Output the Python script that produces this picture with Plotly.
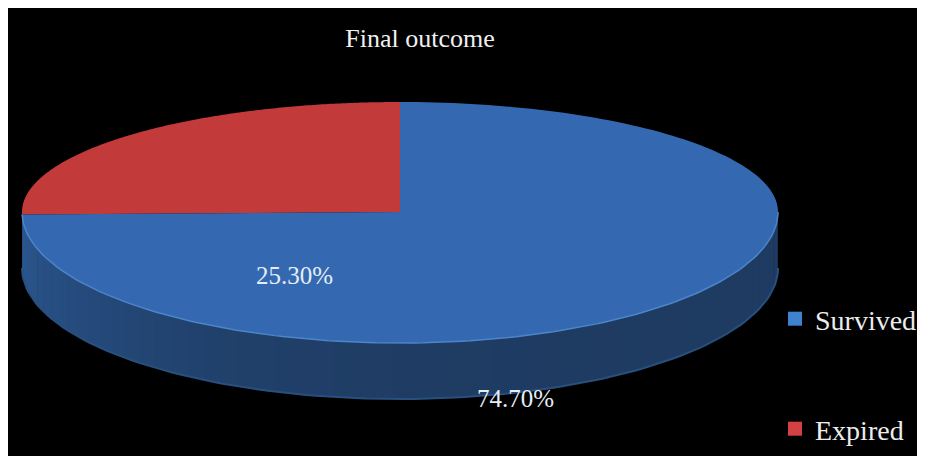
import numpy as np
import plotly.graph_objects as go

# ---- data ----
categories = ["Expired", "Survived"]
values = [25.3, 74.7]
title_text = "Final outcome"

# ---- styling / geometry (page-pixel coordinates; page body has an 8px margin) ----
OFF = 8
FIG_W, FIG_H = 925, 456 - OFF
top_colors = {"Expired": "#c23a3a", "Survived": "#3469b1"}
legend_colors = {"Expired": "#d24242", "Survived": "#3f82cf"}
CX, CY = 400.0, 212.0
RX, RY_BACK, RY_FRONT = 378.0, 110.0, 131.0
DEPTH = 56.0
START = 90.0  # degrees, Expired goes counter-clockwise from top

PX0, PX1, PY0, PY1 = 8, 923, 8, 456  # plot area in page pixels


def px2paper_x(px):
    return (px - PX0) / (PX1 - PX0)


def py2paper_y(py):
    return (PY1 - py) / (PY1 - PY0)


def pt(theta_deg, dy=0.0):
    t = np.radians(theta_deg)
    s = np.sin(t)
    ry = np.where(s >= 0, RY_BACK, RY_FRONT)
    return CX + RX * np.cos(t), CY - ry * s + dy


def mix(c1, c2, f):
    a = [int(c1[i:i + 2], 16) for i in (1, 3, 5)]
    b = [int(c2[i:i + 2], 16) for i in (1, 3, 5)]
    return "#%02x%02x%02x" % tuple(int(round(a[k] + (b[k] - a[k]) * f)) for k in range(3))


total = sum(values)
spans = []
a0 = START
for cat, v in zip(categories, values):
    sweep = v / total * 360.0
    spans.append((cat, a0, a0 + sweep))
    a0 += sweep

fig = go.Figure()

# side walls (front half only, theta in [180, 360])
for cat, t0, t1 in spans:
    lo, hi = max(t0, 180.0), min(t1, 360.0)
    if hi <= lo:
        continue
    n = max(2, int((hi - lo) / 3))
    edges = np.linspace(lo, hi, n + 1)
    for i in range(n):
        ta, tb = edges[i], edges[i + 1]
        tm = 0.5 * (ta + tb)
        f = (np.cos(np.radians(tm)) + 1) / 2  # 0 at left, 1 at right
        g = abs(np.sin(np.radians(tm)))
        if cat == "Survived":
            base = mix("#2b5791", "#1f3c63", f)
            col = mix(base, "#1b3456", g * 0.6)
        else:
            col = "#8a2626"
        arc = np.linspace(ta, tb + 0.3 if i < n - 1 else tb, 4)
        xt, yt = pt(arc)
        xb, yb = pt(arc[::-1], DEPTH)
        fig.add_trace(go.Scatter(
            x=np.concatenate([xt, xb]), y=np.concatenate([yt, yb]),
            fill="toself", fillcolor=col, mode="none",
            hoverinfo="skip", showlegend=False))

# bottom rim highlight
arc = np.linspace(180, 360, 120)
xb, yb = pt(arc, DEPTH)
fig.add_trace(go.Scatter(x=xb, y=yb, mode="lines", line=dict(color="#27507f", width=2),
                         hoverinfo="skip", showlegend=False))

# top faces
for cat, t0, t1 in spans:
    arc = np.linspace(t0, t1, 200)
    xs, ys = pt(arc)
    fig.add_trace(go.Scatter(
        x=np.concatenate([[CX], xs, [CX]]), y=np.concatenate([[CY], ys, [CY]]),
        fill="toself", fillcolor=top_colors[cat], mode="none",
        hoverinfo="skip", showlegend=False))

# top front rim highlight
arc = np.linspace(181, 360, 150)
xs, ys = pt(arc)
fig.add_trace(go.Scatter(x=xs, y=ys, mode="lines", line=dict(color="#4d85cb", width=1.5),
                         hoverinfo="skip", showlegend=False))

# legend entries
for cat, lg in (("Survived", "legend"), ("Expired", "legend2")):
    fig.add_trace(go.Scatter(x=[None], y=[None], mode="markers", name=cat,
                             marker=dict(symbol="square", size=14, color=legend_colors[cat]),
                             legend=lg, hoverinfo="skip"))

# percentage labels
label_pos = {"Expired": (294, 275), "Survived": (515, 398)}
for cat, v in zip(categories, values):
    x, y = label_pos[cat]
    fig.add_annotation(x=x, y=y, text=f"{v:.2f}%", showarrow=False,
                       font=dict(family="Liberation Serif", size=25, color="#e6edf6"))

legend_font = dict(family="Liberation Serif", size=28, color="#ececec")
legend_common = dict(xanchor="left", yanchor="middle", bgcolor="rgba(0,0,0,0)",
                     font=legend_font, itemwidth=30, borderwidth=0)
fig.update_layout(
    width=FIG_W, height=FIG_H,
    margin=dict(l=PX0 - OFF, r=FIG_W + OFF - PX1, t=PY0 - OFF, b=456 - PY1, autoexpand=False),
    paper_bgcolor="white", plot_bgcolor="black",
    title=dict(text=title_text, x=(420 - OFF) / FIG_W, xanchor="center",
               y=1 - (38 - OFF) / FIG_H, yanchor="middle",
               font=dict(family="Liberation Serif", size=26, color="#f0f0f0")),
    xaxis=dict(range=[PX0, PX1], visible=False, fixedrange=True),
    yaxis=dict(range=[PY1, PY0], visible=False, fixedrange=True),
    legend=dict(x=px2paper_x(775), y=py2paper_y(319), **legend_common),
    legend2=dict(x=px2paper_x(775), y=py2paper_y(429), **legend_common),
)

fig.write_html("out.html")
